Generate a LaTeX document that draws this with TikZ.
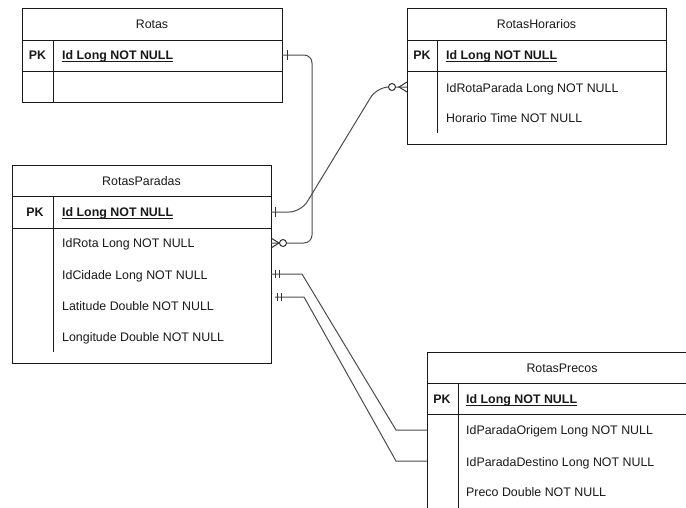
\documentclass[tikz,border=0pt]{standalone}
\usepackage{fontspec}
\setmainfont{Liberation Sans}
\begin{document}
\begin{tikzpicture}[x=1pt,y=-1pt,
  font=\fontsize{12.4}{15}\selectfont,
  tblbox/.style={draw=black!90, line width=1pt, anchor=north west, inner sep=0, fill=white},
  tline/.style={draw=black!90, line width=1pt},
  hdr/.style={inner sep=0, anchor=base, text=black!90},
  fld/.style={inner sep=0, anchor=base west, text=black!90},
  pk/.style={inner sep=0, anchor=base, text=black!90, font=\fontsize{12.4}{15}\selectfont\bfseries},
  pkf/.style={inner sep=0, anchor=base west, text=black!90, font=\fontsize{12.4}{15}\selectfont\bfseries},
  conn/.style={draw=black!70, line width=1pt},
  ermark/.style={draw=black!80, line width=1pt},
  ul/.style={draw=black!90, line width=1.1pt}
]
\useasboundingbox (0,0) rectangle (686,507);
\clip (0,0) rectangle (686,507);

% ---------- Rotas ----------
\node[tblbox, minimum width=260pt, minimum height=94pt] (rotas) at (22,8) {};
\draw[tline] (22,40) -- (282,40);
\draw[tline] (22,71) -- (282,71);
\draw[tline] (53,40) -- (53,102);
\node[hdr] (rotasH) at (152,28.5) {Rotas};
\node[pk] (rotasPK) at (37.5,59) {PK};
\node[pkf] (rotasId) at (62,59) {Id Long NOT NULL};
\draw[ul] ([yshift=-2.2pt]rotasId.base west) -- ([yshift=-2.2pt]rotasId.base east);
\coordinate (rotasIdR) at (282,55);

% ---------- RotasHorarios ----------
\node[tblbox, minimum width=259pt, minimum height=136pt] (rh) at (407,8) {};
\draw[tline] (407,40) -- (666,40);
\draw[tline] (407,71) -- (666,71);
\draw[tline] (437,40) -- (437,133);
\node[hdr] (rhH) at (536.5,28.5) {RotasHorarios};
\node[pk] (rhPK) at (422,59) {PK};
\node[pkf] (rhId) at (446,59) {Id Long NOT NULL};
\draw[ul] ([yshift=-2.2pt]rhId.base west) -- ([yshift=-2.2pt]rhId.base east);
\node[fld] (rhF1) at (446,92) {IdRotaParada Long NOT NULL};
\node[fld] (rhF2) at (446,122.5) {Horario Time NOT NULL};
\coordinate (rhF1L) at (407,87);

% ---------- RotasParadas ----------
\node[tblbox, minimum width=259pt, minimum height=198pt] (rp) at (12,165) {};
\draw[tline] (12,196) -- (271,196);
\draw[tline] (12,228) -- (271,228);
\draw[tline] (53,196) -- (53,352);
\node[hdr] (rpH) at (141.5,185.5) {RotasParadas};
\node[pk] (rpPK) at (35,216.5) {PK};
\node[pkf] (rpId) at (62,216.5) {Id Long NOT NULL};
\draw[ul] ([yshift=-2.2pt]rpId.base west) -- ([yshift=-2.2pt]rpId.base east);
\node[fld] (rpF1) at (62,247.5) {IdRota Long NOT NULL};
\node[fld] (rpF2) at (62,279.5) {IdCidade Long NOT NULL};
\node[fld] (rpF3) at (62,310.5) {Latitude Double NOT NULL};
\node[fld] (rpF4) at (62,341.5) {Longitude Double NOT NULL};
\coordinate (rpIdR) at (271,212);
\coordinate (rpF1R) at (271,243);
\coordinate (rpF2R) at (271,274);
\coordinate (rpFree) at (275,297);

% ---------- RotasPrecos ----------
\node[tblbox, minimum width=270pt, minimum height=190pt] (rpr) at (427,352) {};
\draw[tline] (427,383) -- (697,383);
\draw[tline] (427,414) -- (697,414);
\draw[tline] (458,383) -- (458,542);
\node[hdr] (rprH) at (562,372.5) {RotasPrecos};
\node[pk] (rprPK) at (442,403.5) {PK};
\node[pkf] (rprId) at (466,403.5) {Id Long NOT NULL};
\draw[ul] ([yshift=-2.2pt]rprId.base west) -- ([yshift=-2.2pt]rprId.base east);
\node[fld] (rprF1) at (466,434.5) {IdParadaOrigem Long NOT NULL};
\node[fld] (rprF2) at (466,466.5) {IdParadaDestino Long NOT NULL};
\node[fld] (rprF3) at (466,496.5) {Preco Double NOT NULL};
\coordinate (rprF1L) at (427,430);
\coordinate (rprF2L) at (427,461);

% ---------- Connectors ----------
% Rotas.Id -> RotasParadas.IdRota
\draw[conn, rounded corners=8pt] (rotasIdR) -- ++(30,0) |- (rpF1R);
\draw[ermark] ([xshift=5pt]rotasIdR) ++(0,-5) -- ++(0,10);
\draw[ermark] (rpF1R) ++(0,-5) -- ++(8,5) -- ++(-8,5);
\draw[ermark, fill=white] ([xshift=12pt]rpF1R) circle (3.5pt);

% RotasParadas.Id -> RotasHorarios.IdRotaParada
\draw[conn, rounded corners=12pt] (rpIdR) -- ++(30,0) -- ([xshift=-30pt]rhF1L) -- (rhF1L);
\draw[ermark] ([xshift=4pt]rpIdR) ++(0,-5) -- ++(0,10);
\draw[ermark] (rhF1L) ++(0,-5) -- ++(-8,5) -- ++(8,5);
\draw[ermark, fill=white] ([xshift=-15pt]rhF1L) circle (3.5pt);

% RotasParadas.IdCidade -> RotasPrecos.IdParadaOrigem
\draw[conn] (rpF2R) -- ++(31,0) -- ([xshift=-31pt]rprF1L) -- (rprF1L);
\draw[ermark] ([xshift=4.5pt]rpF2R) ++(0,-4) -- ++(0,8);
\draw[ermark] ([xshift=8pt]rpF2R) ++(0,-4) -- ++(0,8);

% free end -> RotasPrecos.IdParadaDestino
\draw[conn] (rpFree) -- ++(29,0) -- ([xshift=-31pt]rprF2L) -- (rprF2L);
\draw[ermark] ([xshift=2.5pt]rpFree) ++(0,-4) -- ++(0,8);
\draw[ermark] ([xshift=6pt]rpFree) ++(0,-4) -- ++(0,8);
\end{tikzpicture}
\end{document}
